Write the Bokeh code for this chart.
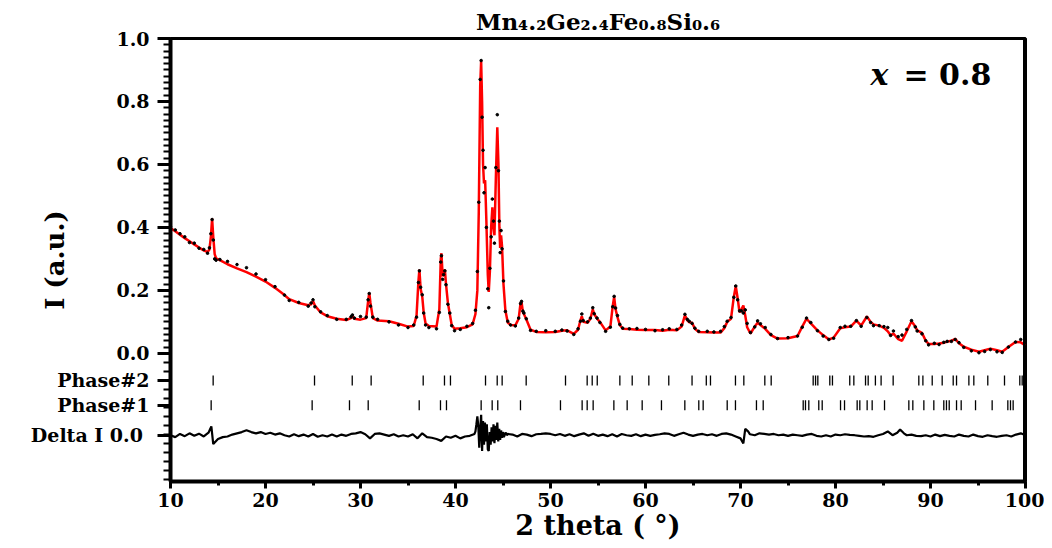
from bokeh.plotting import figure
from bokeh.models import FixedTicker, Label, Span, ColumnDataSource
from bokeh.embed import file_html
from bokeh.resources import INLINE

# ---------------- data ----------------
two_theta = [
    10.0, 10.5, 11.0, 11.5, 12.0, 12.5, 13.0, 13.5, 13.9, 14.1,
    14.25, 14.38, 14.5, 14.65, 14.8, 15.2, 16.0, 17.0, 18.0, 19.0,
    20.0, 21.0, 22.0, 22.5, 23.5, 24.5, 24.8, 25.0, 25.2, 25.8,
    26.5, 27.5, 28.5, 29.0, 29.15, 29.35, 30.0, 30.6, 30.8, 30.92,
    31.05, 31.3, 31.8, 33.0, 34.0, 35.0, 35.6, 35.9, 36.1, 36.2,
    36.33, 36.5, 36.65, 36.85, 37.2, 38.0, 38.3, 38.45, 38.52, 38.65,
    38.75, 38.88, 39.0, 39.2, 39.4, 39.6, 39.9, 40.5, 41.2, 41.8,
    42.1, 42.3, 42.45, 42.6, 42.7, 42.8, 42.9, 43.0, 43.12, 43.25,
    43.4, 43.5, 43.62, 43.75, 43.88, 44.0, 44.1, 44.25, 44.4, 44.52,
    44.62, 44.7, 44.8, 44.9, 45.05, 45.25, 45.5, 45.8, 46.3, 46.65,
    46.85, 46.95, 47.1, 47.2, 47.45, 47.9, 48.5, 49.5, 50.5, 51.2,
    51.75, 52.45, 52.9, 53.15, 53.3, 53.45, 53.9, 54.2, 54.45, 54.6,
    54.9, 55.2, 55.8, 56.3, 56.55, 56.7, 56.85, 57.05, 57.3, 57.6,
    58.3, 59.1, 60.0, 61.0, 61.8, 62.5, 63.3, 63.8, 64.15, 64.4,
    64.6, 64.9, 65.2, 65.6, 66.5, 67.2, 67.9, 68.3, 68.6, 69.0,
    69.3, 69.5, 69.7, 69.9, 70.1, 70.3, 70.5, 70.7, 71.05, 71.5,
    71.8, 72.1, 72.6, 73.2, 73.9, 75.0, 76.0, 76.5, 76.95, 77.4,
    78.1, 78.7, 79.3, 79.8, 80.5, 81.0, 81.6, 82.2, 82.7, 83.3,
    83.7, 84.0, 84.6, 85.1, 85.5, 85.8, 86.1, 86.6, 87.0, 87.5,
    88.0, 88.4, 88.6, 89.1, 89.5, 89.8, 90.4, 90.9, 91.4, 91.75,
    92.2, 92.6, 93.0, 93.5, 94.3, 95.1, 95.7, 96.3, 97.0, 97.55,
    98.2, 98.95, 99.5, 100.0,
]

i_calc = [
    0.398, 0.388, 0.377, 0.366, 0.356, 0.346, 0.336, 0.327, 0.322, 0.330,
    0.370, 0.428, 0.370, 0.315, 0.302, 0.296, 0.283, 0.270, 0.258, 0.244,
    0.228, 0.208, 0.185, 0.172, 0.160, 0.153, 0.156, 0.166, 0.152, 0.130,
    0.118, 0.110, 0.106, 0.112, 0.119, 0.110, 0.107, 0.112, 0.165, 0.192,
    0.160, 0.112, 0.104, 0.102, 0.094, 0.085, 0.087, 0.120, 0.230, 0.266,
    0.205, 0.180, 0.130, 0.095, 0.087, 0.085, 0.140, 0.300, 0.318, 0.245,
    0.255, 0.266, 0.220, 0.160, 0.125, 0.090, 0.078, 0.080, 0.083, 0.092,
    0.125, 0.200, 0.450, 0.850, 0.928, 0.800, 0.600, 0.540, 0.550, 0.420,
    0.250, 0.195, 0.260, 0.400, 0.464, 0.400, 0.375, 0.560, 0.718, 0.600,
    0.400, 0.335, 0.375, 0.340, 0.220, 0.137, 0.098, 0.090, 0.089, 0.110,
    0.160, 0.163, 0.130, 0.125, 0.108, 0.075, 0.068, 0.067, 0.068, 0.072,
    0.073, 0.062, 0.075, 0.105, 0.118, 0.100, 0.097, 0.110, 0.140, 0.125,
    0.110, 0.100, 0.073, 0.085, 0.150, 0.179, 0.140, 0.115, 0.090, 0.078,
    0.077, 0.075, 0.074, 0.074, 0.072, 0.075, 0.073, 0.085, 0.121, 0.105,
    0.099, 0.097, 0.078, 0.068, 0.067, 0.066, 0.066, 0.080, 0.100, 0.110,
    0.180, 0.213, 0.175, 0.130, 0.140, 0.152, 0.120, 0.083, 0.063, 0.085,
    0.097, 0.090, 0.078, 0.058, 0.047, 0.048, 0.055, 0.085, 0.110, 0.095,
    0.073, 0.058, 0.044, 0.050, 0.080, 0.083, 0.085, 0.104, 0.088, 0.117,
    0.100, 0.092, 0.088, 0.081, 0.070, 0.057, 0.063, 0.045, 0.040, 0.070,
    0.102, 0.085, 0.073, 0.065, 0.040, 0.030, 0.030, 0.031, 0.034, 0.037,
    0.040, 0.046, 0.032, 0.021, 0.012, 0.005, 0.010, 0.015, 0.010, 0.005,
    0.020, 0.036, 0.035, 0.025,
]

i_obs = [
    0.402, 0.392, 0.380, 0.370, 0.352, 0.350, 0.334, 0.330, 0.318, 0.335,
    0.380, 0.425, 0.360, 0.300, 0.296, 0.298, 0.292, 0.282, 0.272, 0.252,
    0.234, 0.212, 0.185, 0.168, 0.162, 0.150, 0.160, 0.170, 0.148, 0.132,
    0.120, 0.108, 0.108, 0.116, 0.122, 0.112, 0.117, 0.115, 0.170, 0.190,
    0.150, 0.115, 0.108, 0.100, 0.090, 0.082, 0.090, 0.115, 0.225, 0.262,
    0.210, 0.186, 0.128, 0.090, 0.082, 0.078, 0.130, 0.290, 0.310, 0.235,
    0.250, 0.262, 0.218, 0.156, 0.128, 0.088, 0.072, 0.076, 0.086, 0.095,
    0.137, 0.260, 0.480, 0.870, 0.930, 0.750, 0.645, 0.510, 0.590, 0.400,
    0.205, 0.145, 0.270, 0.370, 0.490, 0.420, 0.350, 0.590, 0.758, 0.580,
    0.420, 0.320, 0.390, 0.332, 0.230, 0.133, 0.102, 0.090, 0.087, 0.112,
    0.158, 0.165, 0.134, 0.128, 0.110, 0.073, 0.070, 0.072, 0.070, 0.074,
    0.071, 0.060, 0.078, 0.102, 0.125, 0.104, 0.100, 0.112, 0.145, 0.126,
    0.112, 0.098, 0.070, 0.083, 0.148, 0.181, 0.144, 0.120, 0.092, 0.080,
    0.078, 0.079, 0.076, 0.072, 0.075, 0.078, 0.076, 0.090, 0.124, 0.108,
    0.102, 0.095, 0.080, 0.070, 0.070, 0.068, 0.070, 0.085, 0.102, 0.114,
    0.178, 0.214, 0.170, 0.135, 0.135, 0.128, 0.138, 0.095, 0.066, 0.084,
    0.103, 0.094, 0.082, 0.060, 0.047, 0.050, 0.055, 0.083, 0.112, 0.098,
    0.072, 0.055, 0.044, 0.048, 0.082, 0.086, 0.086, 0.104, 0.086, 0.114,
    0.098, 0.088, 0.088, 0.085, 0.082, 0.057, 0.071, 0.053, 0.058, 0.076,
    0.104, 0.084, 0.071, 0.062, 0.040, 0.027, 0.032, 0.028, 0.035, 0.038,
    0.038, 0.044, 0.034, 0.019, 0.008, 0.002, 0.006, 0.012, 0.005, 0.003,
    0.020, 0.036, 0.044, 0.022,
]

diff_theta = [
    10.0, 10.5, 11.0, 11.5, 12.0, 12.5, 13.0, 13.5, 14.0, 14.3,
    14.5, 15.0, 15.5, 16.0, 16.5, 17.0, 17.5, 18.0, 18.5, 19.0,
    19.5, 20.0, 20.5, 21.0, 21.5, 22.0, 22.5, 23.0, 23.5, 24.0,
    24.5, 25.0, 25.5, 26.0, 26.5, 27.0, 27.5, 28.0, 28.5, 29.0,
    29.5, 30.0, 30.5, 31.0, 31.5, 32.0, 32.5, 33.0, 33.5, 34.0,
    34.5, 35.0, 35.5, 36.0, 36.5, 37.0, 37.5, 38.0, 38.5, 39.0,
    39.5, 40.0, 40.5, 41.0, 41.5, 42.0, 42.1, 42.2, 42.3, 42.4,
    42.5, 42.6, 42.7, 42.8, 42.9, 43.0, 43.1, 43.2, 43.3, 43.4,
    43.5, 43.6, 43.7, 43.8, 43.9, 44.0, 44.1, 44.2, 44.3, 44.4,
    44.5, 44.6, 44.7, 44.8, 44.9, 45.0, 45.1, 45.2, 45.3, 45.4,
    45.5, 46.0, 46.5, 47.0, 47.5, 48.0, 48.5, 49.0, 49.5, 50.0,
    50.5, 51.0, 51.5, 52.0, 52.5, 53.0, 53.5, 54.0, 54.5, 55.0,
    55.5, 56.0, 56.5, 57.0, 57.5, 58.0, 58.5, 59.0, 59.5, 60.0,
    60.5, 61.0, 61.5, 62.0, 62.5, 63.0, 63.5, 64.0, 64.5, 65.0,
    65.5, 66.0, 66.5, 67.0, 67.5, 68.0, 68.5, 69.0, 69.5, 70.0,
    70.3, 70.5, 70.8, 71.0, 71.5, 72.0, 72.5, 73.0, 73.5, 74.0,
    74.5, 75.0, 75.5, 76.0, 76.5, 77.0, 77.5, 78.0, 78.5, 79.0,
    79.5, 80.0, 80.5, 81.0, 81.5, 82.0, 82.5, 83.0, 83.5, 84.0,
    84.5, 85.0, 85.5, 86.0, 86.5, 86.8, 87.2, 87.5, 88.0, 88.5,
    89.0, 89.5, 90.0, 90.5, 91.0, 91.5, 92.0, 92.5, 93.0, 93.5,
    94.0, 94.5, 95.0, 95.5, 96.0, 96.5, 97.0, 97.5, 98.0, 98.5,
    99.0, 99.5, 100.0,
]

delta_i = [
    0.000, -0.006, 0.004, -0.003, 0.006, -0.002, 0.005, -0.004, 0.008, 0.028,
    -0.028, -0.012, -0.006, -0.004, 0.002, 0.006, 0.010, 0.016, 0.010, 0.006,
    0.010, 0.004, 0.008, 0.002, 0.006, 0.000, -0.004, 0.003, -0.003, 0.002,
    -0.004, 0.004, -0.005, 0.000, -0.004, 0.002, -0.004, 0.002, -0.002, 0.004,
    0.006, 0.010, 0.003, -0.010, 0.004, 0.006, 0.002, -0.002, 0.003, -0.004,
    0.000, -0.004, 0.003, -0.010, 0.006, -0.006, -0.008, -0.012, -0.018, -0.004,
    -0.008, -0.002, -0.010, -0.004, -0.002, 0.004, 0.012, 0.035, 0.060, 0.030,
    -0.040, 0.020, 0.065, -0.050, 0.045, -0.030, 0.040, -0.020, 0.035, -0.045,
    -0.050, 0.010, -0.030, 0.025, -0.020, 0.035, -0.025, 0.030, -0.015, 0.040,
    -0.020, 0.020, -0.015, 0.015, -0.008, 0.010, -0.006, 0.004, 0.008, 0.000,
    0.004, 0.002, -0.004, 0.004, 0.002, -0.003, 0.003, 0.004, 0.006, 0.004,
    0.000, 0.004, -0.002, 0.003, -0.003, 0.002, 0.006, -0.002, 0.005, -0.002,
    0.002, -0.003, 0.003, -0.004, 0.004, 0.000, -0.002, 0.003, -0.003, 0.002,
    -0.002, 0.001, 0.003, 0.006, 0.004, -0.002, 0.003, 0.008, 0.002, -0.002,
    0.002, 0.004, 0.000, 0.003, -0.002, 0.004, 0.006, 0.002, -0.004, -0.010,
    -0.026, 0.020, 0.012, 0.003, 0.000, 0.006, 0.004, 0.002, 0.004, 0.000,
    0.002, -0.002, 0.002, 0.000, -0.002, 0.002, 0.004, -0.002, -0.004, 0.000,
    -0.004, 0.002, 0.000, 0.003, 0.001, 0.000, -0.002, -0.004, -0.003, -0.005,
    0.000, 0.004, 0.012, 0.000, 0.008, 0.018, 0.006, 0.000, 0.002, -0.002,
    -0.003, 0.000, -0.004, 0.002, -0.003, 0.001, -0.002, -0.004, 0.002, -0.002,
    -0.004, 0.002, -0.003, -0.005, 0.000, -0.003, -0.005, -0.002, 0.000, -0.004,
    0.002, 0.006, 0.000,
]

phase1_peaks = [
    14.28, 24.91, 28.84, 30.81, 36.18, 38.42, 39.05, 42.70, 43.86, 44.45,
    46.84, 51.05, 53.33, 53.86, 54.49, 56.67, 58.07, 59.65, 61.68, 64.14,
    65.61, 66.07, 68.60, 69.47, 71.68, 72.39, 76.60, 76.84, 77.19, 78.24,
    78.60, 80.53, 80.95, 82.28, 82.56, 83.33, 83.86, 85.16, 87.72, 88.14,
    89.30, 90.35, 91.40, 91.68, 91.97, 92.74, 93.23, 94.74, 96.49, 98.14,
    98.42, 98.70,
]

phase2_peaks = [
    14.49, 25.16, 29.13, 31.12, 36.60, 38.84, 39.47, 43.16, 44.39, 44.91,
    47.44, 51.58, 53.86, 54.39, 54.92, 57.30, 58.60, 60.35, 62.45, 64.90,
    66.40, 66.84, 69.47, 70.35, 72.56, 73.23, 77.65, 77.90, 78.14, 79.40,
    79.68, 81.50, 81.93, 83.16, 83.44, 84.20, 84.80, 86.07, 88.77, 89.20,
    90.18, 91.23, 92.39, 92.74, 94.04, 94.56, 96.03, 97.79, 99.40, 99.65,
]

x_ticks = [10, 20, 30, 40, 50, 60, 70, 80, 90, 100]
y_tick_values = [-0.26, -0.165, -0.086, 0.0, 0.2, 0.4, 0.6, 0.8, 1.0]
y_tick_labels = ["Delta I  0.0", "Phase#1", "Phase#2", "0.0", "0.2", "0.4", "0.6", "0.8", "1.0"]

chart_title = "Mn₄.₂Ge₂.₄Fe₀.₈Si₀.₆"

# ---------------- layout / style ----------------
FONT = "DejaVu Serif"
DIFF_OFFSET = -0.26
PHASE2_ROW = (-0.070, -0.102)
PHASE1_ROW = (-0.149, -0.181)

def px_to_x(px):
    return 10 + (px - 170) / 9.5

def py_to_y(py):
    return (353 - py) / 315.0

p = figure(width=1044, height=545, x_range=(10, 100), y_range=(-0.407, 1.0),
           output_backend="svg", toolbar_location=None,
           min_border_left=170, min_border_right=19, min_border_top=38, min_border_bottom=64)
p.xgrid.visible = False
p.ygrid.visible = False
p.outline_line_color = "black"
p.outline_line_width = 3
p.background_fill_color = "white"
p.border_fill_color = "white"

p.title.text = chart_title
p.title.align = "center"
p.title.offset = 9
p.title.standoff = 8
p.title.text_font = FONT
p.title.text_font_style = "bold"
p.title.text_font_size = "23px"
p.title.text_color = "black"

# x axis
xa = p.xaxis[0]
xa.ticker = FixedTicker(ticks=x_ticks, minor_ticks=[15, 25, 35, 45, 55, 65, 75, 85, 95])
xa.axis_line_width = 4
xa.major_tick_line_width = 3
xa.minor_tick_line_width = 3
xa.major_tick_in = 0
xa.major_tick_out = 7
xa.minor_tick_in = 0
xa.minor_tick_out = 4
xa.major_label_standoff = 4
xa.major_label_text_font = FONT
xa.major_label_text_font_style = "bold"
xa.major_label_text_font_size = "19px"
xa.major_label_text_color = "black"
xa.axis_label = "2 theta ( °)"
xa.axis_label_text_font = FONT
xa.axis_label_text_font_style = "bold"
xa.axis_label_text_font_size = "27px"
xa.axis_label_text_color = "black"
xa.axis_label_standoff = 0

# y axis
minor_y = [round(0.02 * k, 4) for k in range(0, 51)] + [round(-0.2 / 7 * k, 4) for k in range(1, 15)]
ya = p.yaxis[0]
ya.ticker = FixedTicker(ticks=y_tick_values, minor_ticks=minor_y)
ya.major_label_overrides = dict(zip(y_tick_values, y_tick_labels))
ya.axis_line_width = 4
ya.major_tick_line_width = 3
ya.minor_tick_line_width = 2
ya.major_tick_in = 0
ya.major_tick_out = 13
ya.minor_tick_in = 0
ya.minor_tick_out = 7
ya.major_label_standoff = 8
ya.major_label_text_font = FONT
ya.major_label_text_font_style = "bold"
ya.major_label_text_font_size = "19px"
ya.major_label_text_color = "black"
ya.axis_label = "I (a.u.)"
ya.axis_label_text_font = FONT
ya.axis_label_text_font_style = "bold"
ya.axis_label_text_font_size = "26px"
ya.axis_label_text_color = "black"
ya.axis_label_standoff = -42

p.add_layout(Span(location=100, dimension="height", line_color="black", line_width=5))

# ---------------- glyphs ----------------
src = ColumnDataSource(dict(x=two_theta, calc=i_calc, obs=i_obs))
p.line("x", "calc", source=src, line_color="#ff0000", line_width=2.5)
p.scatter("x", "obs", source=src, size=2.6, color="black")

diff_y = [d + DIFF_OFFSET for d in delta_i]
p.line(diff_theta, diff_y, line_color="black", line_width=2.2)

p.segment(x0=phase2_peaks, y0=[PHASE2_ROW[0]] * len(phase2_peaks),
          x1=phase2_peaks, y1=[PHASE2_ROW[1]] * len(phase2_peaks),
          line_color="black", line_width=1.3)
p.segment(x0=phase1_peaks, y0=[PHASE1_ROW[0]] * len(phase1_peaks),
          x1=phase1_peaks, y1=[PHASE1_ROW[1]] * len(phase1_peaks),
          line_color="black", line_width=1.3)

# ---------------- texts ----------------
p.add_layout(Label(x=px_to_x(870), y=py_to_y(74), text="x",
                   text_align="left", text_baseline="alphabetic",
                   text_font=FONT, text_font_style="bold italic", text_font_size="30px",
                   text_color="black"))
p.add_layout(Label(x=px_to_x(903), y=py_to_y(74), text="= 0.8",
                   text_align="left", text_baseline="alphabetic",
                   text_font=FONT, text_font_style="bold", text_font_size="30px",
                   text_color="black"))

open("out.html", "w").write(file_html(p, INLINE))
